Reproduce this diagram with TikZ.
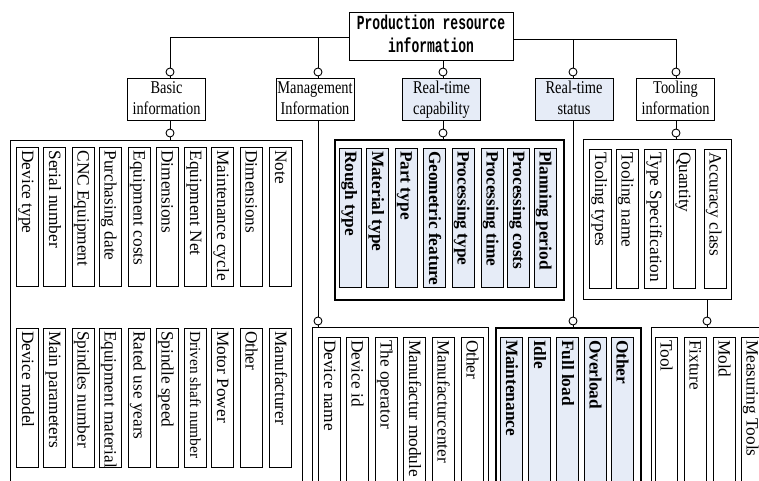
\documentclass[tikz,border=0pt]{standalone}
\usepackage{fontspec}
\setmainfont{Liberation Serif}
\setmonofont{Liberation Mono}
\usepackage{graphicx}
\definecolor{lb}{RGB}{230,236,247}
\newcommand\twol[3]{\scalebox{#1}[1]{\begin{tabular}{@{}c@{}}#2\\#3\end{tabular}}}
\begin{document}
\begin{tikzpicture}[x=1pt,y=-1pt,
  box/.style={draw, line width=1pt, inner sep=0pt},
  tbox/.style={draw, line width=2.2pt, inner sep=0pt},
  dot/.style={circle, draw, line width=0.9pt, fill=white, inner sep=0pt, minimum size=8pt},
  lvl/.style={box, minimum width=78pt, minimum height=41pt, font=\fontsize{18}{21}\selectfont},
  vb/.style={draw, line width=0.9pt, rotate=-90, minimum height=22pt, inner xsep=3pt, inner ysep=0pt, text height=11pt, text depth=0pt, font=\fontsize{17.3}{20}\selectfont},
  vbb/.style={vb, fill=lb, font=\fontsize{17.3}{20}\selectfont\bfseries},
  conn/.style={line width=0.9pt}]
\useasboundingbox (0,0) rectangle (759,480);
\clip (0,0) rectangle (759,480);
\fill[white] (0,0) rectangle (759,480);

% top node
\node[box, minimum width=164pt, minimum height=48pt, font=\fontsize{20}{23}\selectfont\ttfamily\bfseries] (top) at (431,36) {\twol{0.65}{Production resource}{information}};
\coordinate (tl) at ([yshift=-1pt]top.west);
\coordinate (tr) at ([yshift=-3pt]top.east);

% level 2
\node[lvl] (basic) at (166.5,99.5) {\twol{0.8}{Basic}{information}};
\node[lvl] (mgmt) at (315,99.5) {\twol{0.8}{Management}{Information}};
\node[lvl, fill=lb] (cap) at (441.5,99.5) {\twol{0.8}{Real-time}{capability}};
\node[lvl, fill=lb] (stat) at (574,99.5) {\twol{0.8}{Real-time}{status}};
\node[lvl] (tool) at (675.5,99.5) {\twol{0.8}{Tooling}{information}};

% containers
\node[box, anchor=north west, minimum width=292pt, minimum height=360pt] (bc) at (10,140) {};
\node[tbox, anchor=north west, minimum width=229pt, minimum height=160pt] (cc) at (334,139) {};
\node[box, anchor=north west, minimum width=148pt, minimum height=160pt] (tc) at (583,139) {};
\node[box, anchor=north west, minimum width=176pt, minimum height=200pt] (mc) at (312,327) {};
\node[tbox, anchor=north west, minimum width=145pt, minimum height=200pt] (sc) at (495,327) {};
\node[box, anchor=north west, minimum width=150pt, minimum height=200pt] (oc) at (651,327) {};

% dots
\node[dot] (d1) at (170,72) {};
\node[dot] (d2) at (318,72) {};
\node[dot] (d3) at (443,72) {};
\node[dot] (d4) at (573,72) {};
\node[dot] (d5) at (676,72) {};
\node[dot] (e1) at (170,133) {};
\node[dot] (e3) at (443,133) {};
\node[dot] (e5) at (676,133) {};
\node[dot] (f2) at (318,321) {};
\node[dot] (f4) at (573,321) {};
\node[dot] (f5) at (707,321) {};

% connectors
\draw[conn] (tl) -| (d1);
\draw[conn] (d2 |- tl) -- (d2);
\draw[conn] (tr) -| (d5);
\draw[conn] (d4 |- tr) -- (d4);
\draw[conn] (top.south -| d3) -- (d3);
\draw[conn] (d1) -- (d1 |- basic.north);
\draw[conn] (d2) -- (d2 |- mgmt.north);
\draw[conn] (d3) -- (d3 |- cap.north);
\draw[conn] (d4) -- (d4 |- stat.north);
\draw[conn] (d5) -- (d5 |- tool.north);
\draw[conn] (basic.south -| e1) -- (e1) -- (e1 |- bc.north);
\draw[conn] (cap.south -| e3) -- (e3) -- (e3 |- cc.north);
\draw[conn] (tool.south -| e5) -- (e5) -- (e5 |- tc.north);
\draw[conn] (mgmt.south -| f2) -- (f2) -- (f2 |- mc.north);
\draw[conn] (stat.south -| f4) -- (f4) -- (f4 |- sc.north);
\draw[conn] (tc.south -| f5) -- (f5) -- (f5 |- oc.north);

% basic info: top row
\foreach \x/\t [count=\i] in {27.5/Device type, 54.5/Serial number, 83/CNC Equipment, 110/Purchasing date, 139/Equipment costs, 167/Dimensions, 195.5/Equipment Net, 222.5/Maintenance cycle, 251/Dimensions, 280.5/Note}
  \node[vb] (ba\i) at (\x,217) {\makebox[133pt][l]{\t}};
% basic info: bottom row
\foreach \x/\t [count=\i] in {27.5/Device model, 54.5/Main parameters, 83/Spindles number, 110/Equipment material, 139/Rated use years, 167/Spindle speed, 195.5/{\fontsize{15.4}{18}\selectfont Driven shaft number}, 222.5/Motor Power, 251/Other, 280.5/Manufacturer}
  \node[vb] (bb\i) at (\x,397.5) {\makebox[133pt][l]{\t}};
% real-time capability
\foreach \x/\t [count=\i] in {350.5/Rough type, 377.5/Material type, 406/Part type, 434.5/Geometric feature, 463/Processing type, 492/Processing time, 518.5/Processing costs, 545/Planning period}
  \node[vbb] (ca\i) at (\x,217.5) {\makebox[133pt][l]{\t}};
% tooling information
\foreach \x/\t [count=\i] in {600.5/Tooling types, 627/Tooling name, 655.5/Type Specification, 684.5/Quantity, 715/Accuracy class}
  \node[vb] (ta\i) at (\x,218.5) {\makebox[133pt][l]{\t}};
% management
\foreach \x/\t [count=\i] in {329.5/Device name, 357/Device id, 386/The operator, 414.5/Manufactur module, 443/Manufacturcenter, 472/Other}
  \node[vb] (ma\i) at (\x,417) {\makebox[154pt][l]{\t}};
% status
\foreach \x/\t [count=\i] in {511.5/Maintenance, 539.5/Idle, 567.5/Full load, 595/Overload, 622/Other}
  \node[vbb] (sa\i) at (\x,417) {\makebox[154pt][l]{\t}};
% tools
\foreach \x/\t [count=\i] in {666/Tool, 695/Fixture, 724/Mold, 752/Measuring Tools}
  \node[vb] (oa\i) at (\x,417) {\makebox[154pt][l]{\t}};
\end{tikzpicture}
\end{document}
